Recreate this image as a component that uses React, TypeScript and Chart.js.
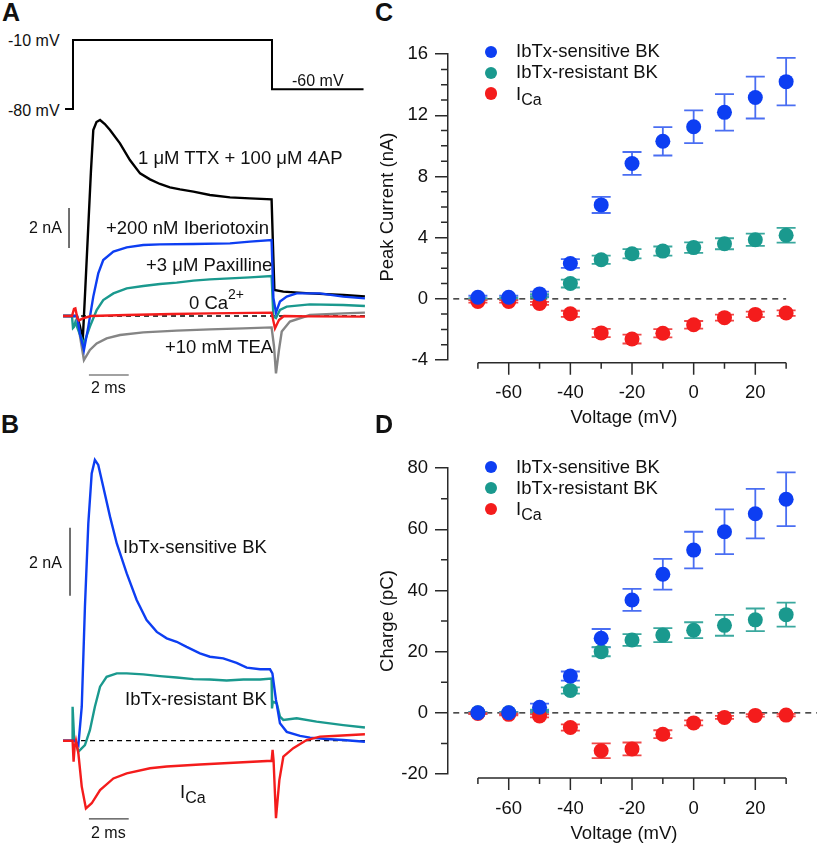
import React, { useEffect, useRef } from 'react';
import { Chart, registerables } from 'chart.js';
Chart.register(...registerables);

const FONT = '"Liberation Sans", Arial, Helvetica, sans-serif';

// ---------- Panel A: command step (ms, mV) ----------
const stepTime = [-0.4, 0, 0, 10, 10, 14.6];
const stepVoltage = [-80, -80, -10, -10, -60, -60];

// ---------- Panel A: current traces (ms, nA) ----------
const ttxTime = [-0.5, 0.2, 0.35, 0.49, 0.62, 0.76, 0.9, 1.02, 1.18, 1.36, 1.6, 1.86, 2.36, 2.86, 3.37, 3.87, 4.37, 4.87, 5.38, 6.05, 6.88, 7.89, 8.89, 9.98, 10.05, 10.12, 10.57, 11.9, 13.6, 14.67];
const ttxCurrent = [0, 0, -0.5, -1.2, 1.4, 4.3, 7.2, 9.3, 9.7, 9.8, 9.6, 9.3, 8.63, 7.8, 7.13, 6.83, 6.6, 6.43, 6.33, 6.22, 6.05, 5.93, 5.88, 5.83, 3.5, 1.3, 1.22, 1.13, 1.05, 0.98];

const ibtxTime = [-0.5, 0.2, 0.35, 0.55, 0.77, 1.02, 1.27, 1.52, 2.03, 2.7, 3.53, 4.37, 6.05, 7.89, 8.89, 9.98, 10.07, 10.2, 10.4, 10.74, 11.24, 12.4, 13.58, 14.67];
const ibtxCurrent = [0, 0, -0.9, -1.7, -0.53, 0.97, 2.13, 2.8, 3.22, 3.43, 3.55, 3.58, 3.6, 3.63, 3.72, 3.8, 0.9, 0.17, 0.72, 0.97, 1.13, 1.13, 0.97, 0.88];

const paxTime = [-0.5, -0.05, 0.0, 0.05, 0.12, 0.3, 0.55, 0.85, 1.19, 1.52, 2.03, 2.7, 3.53, 4.37, 5.21, 6.05, 6.88, 7.89, 8.89, 9.98, 10.07, 10.2, 10.4, 10.74, 11.9, 13.58, 14.67];
const paxCurrent = [0, 0, -0.6, -0.55, -0.3, -0.8, -1.37, -0.53, 0.3, 0.8, 1.13, 1.38, 1.5, 1.6, 1.67, 1.77, 1.83, 1.88, 1.93, 2.0, -0.03, -0.1, 0.3, 0.47, 0.58, 0.55, 0.5];

const teaTime = [-0.5, 0.2, 0.35, 0.55, 0.85, 1.19, 1.69, 2.36, 3.53, 5.21, 6.88, 8.56, 9.98, 10.1, 10.2, 10.35, 10.49, 10.9, 11.9, 13.58, 14.67];
const teaCurrent = [0, 0, -1.0, -2.2, -1.7, -1.37, -1.12, -0.95, -0.82, -0.73, -0.67, -0.62, -0.57, -1.5, -2.87, -1.7, -0.78, -0.28, 0.05, 0.13, 0.17];

const zeroCaTime = [-0.5, -0.05, 0.05, 0.12, 0.22, 0.3, 0.5, 0.9, 2.7, 5.0, 6.88, 9.98, 10.15, 10.35, 10.6, 12.0, 14.67];
const zeroCaCurrent = [0, 0, 0.35, 0.38, -0.1, -0.22, -0.12, 0, 0.05, 0.1, 0.13, 0.17, -0.62, -0.2, 0, -0.02, -0.03];

// ---------- Panel B: difference currents (ms, nA) ----------
const sensTime = [-0.5, 0.1, 0.27, 0.44, 0.6, 0.77, 0.94, 1.1, 1.27, 1.52, 1.86, 2.2, 2.7, 3.2, 3.7, 4.21, 4.71, 5.21, 5.71, 6.38, 6.88, 7.55, 8.22, 8.73, 9.4, 9.9, 10.02, 10.2, 10.4, 10.74, 11.41, 11.91, 12.74, 13.58, 14.67];
const sensCurrent = [0, 0, -0.13, 1.0, 3.94, 6.39, 7.86, 8.26, 8.11, 7.47, 6.59, 5.8, 4.92, 4.14, 3.55, 3.2, 3.01, 2.91, 2.76, 2.57, 2.47, 2.42, 2.29, 2.15, 2.1, 2.1, 1.98, 1.2, 0.51, 0.26, 0.14, 0.09, 0.05, 0.02, -0.03];

const resTime = [-0.5, -0.04, -0.02, 0.03, 0.06, 0.12, 0.27, 0.6, 0.85, 1.1, 1.36, 1.69, 2.2, 2.7, 3.53, 4.37, 5.21, 6.05, 6.88, 7.72, 8.56, 9.4, 9.98, 10.0, 10.04, 10.24, 10.4, 10.57, 11.24, 12.24, 13.58, 14.67];
const resCurrent = [0, 0, 1.0, 0.4, 0, 0, -0.32, -0.13, 0.31, 1.0, 1.59, 1.88, 1.98, 1.98, 1.95, 1.9, 1.86, 1.81, 1.8, 1.77, 1.8, 1.8, 1.83, 0.95, 1.15, 1.1, 0.71, 0.61, 0.66, 0.56, 0.46, 0.39];

const icaTime = [-0.5, -0.02, 0.03, 0.08, 0.15, 0.27, 0.44, 0.65, 0.94, 1.36, 2.03, 2.7, 3.87, 4.71, 6.38, 8.06, 9.98, 10.03, 10.08, 10.2, 10.37, 10.57, 11.07, 11.74, 12.41, 13.08, 14.67];
const icaCurrent = [0, 0, -0.62, -0.2, 0, -0.37, -1.35, -1.99, -1.84, -1.45, -1.11, -0.96, -0.81, -0.76, -0.7, -0.65, -0.59, -0.27, -0.59, -2.28, -1.16, -0.47, -0.22, 0.02, 0.12, 0.14, 0.19];

// baselines & scale bars
const baselineTime = [-0.5, 14.67];
const baselineValue = [0, 0];
const barA_nA_t = [-0.2, -0.2];
const barA_nA_v = [3.4, 5.4];
const barA_ms_t = [0.8, 2.8];
const barA_ms_v = [-2.95, -2.95];
const barB_nA_t = [-0.15, -0.15];
const barB_nA_v = [4.26, 6.26];
const barB_ms_t = [0.8, 2.8];
const barB_ms_v = [-2.3, -2.3];

// ---------- Panels C & D: I-V relations ----------
const voltages = [-70, -60, -50, -40, -30, -20, -10, 0, 10, 20, 30];

const peakSensitive = [0.1, 0.1, 0.32, 2.31, 6.14, 8.85, 10.3, 11.25, 12.19, 13.16, 14.2];
const peakSensitiveErr = [0.1, 0.1, 0.15, 0.29, 0.53, 0.75, 0.93, 1.07, 1.19, 1.37, 1.55];
const peakResistant = [0.0, 0.02, 0.2, 1.0, 2.55, 2.95, 3.12, 3.35, 3.6, 3.86, 4.16];
const peakResistantErr = [0.05, 0.05, 0.1, 0.26, 0.27, 0.3, 0.3, 0.34, 0.36, 0.4, 0.48];
const peakCa = [-0.17, -0.17, -0.3, -0.98, -2.23, -2.63, -2.25, -1.7, -1.23, -1.02, -0.93];
const peakCaErr = [0.08, 0.08, 0.1, 0.2, 0.27, 0.29, 0.27, 0.25, 0.2, 0.18, 0.18];

const chargeSensitive = [0, 0, 1.8, 12.0, 24.4, 36.9, 45.3, 53.2, 59.2, 65.1, 69.8];
const chargeSensitiveErr = [0.3, 0.3, 1.2, 1.5, 3.0, 3.6, 5.0, 6.0, 7.3, 8.1, 8.8];
const chargeResistant = [0, 0, 0.5, 7.3, 20.0, 23.8, 25.4, 27.0, 28.6, 30.4, 32.1];
const chargeResistantErr = [0.2, 0.2, 0.5, 1.0, 1.5, 1.9, 2.3, 2.6, 3.4, 3.7, 3.9];
const chargeCa = [-0.2, -0.5, -1.0, -4.8, -12.4, -11.8, -7.0, -3.3, -1.5, -0.85, -0.75];
const chargeCaErr = [0.2, 0.3, 0.5, 1.0, 2.4, 2.1, 1.3, 0.8, 0.5, 0.4, 0.4];

const xTickMarks = [-70, -60, -50, -40, -30, -20, -10, 0, 10, 20, 30];
const xTickLabels = [-60, -40, -20, 0, 20];
const yMajorC = [-4, 0, 4, 8, 12, 16];
const yMinorC = [-3, -2, -1, 1, 2, 3, 5, 6, 7, 9, 10, 11, 13, 14, 15];
const yMajorD = [-20, 0, 20, 40, 60, 80];
const yMinorD = [-10, 10, 30, 50, 70];

const BLUE = '#0d3ef2';
const BLUE_ERR = '#4a6ef2';
const TEAL = '#1a998e';
const TEAL_ERR = '#3aa89e';
const RED = '#f41c1c';
const RED_ERR = '#f04848';
const GRAY = '#858585';
const AXIS = '#2a2a2a';

const series = (t: number[], v: number[]) => t.map((x, i) => ({ x, y: v[i] }));

const trace = (t: number[], v: number[], color: string, order: number, extra: any = {}) => ({
  type: 'scatter',
  data: series(t, v),
  showLine: true,
  borderColor: color,
  backgroundColor: color,
  borderWidth: 2.4,
  pointRadius: 0,
  pointHoverRadius: 0,
  order,
  ...extra,
});

const ivPlugin = {
  id: 'ivAxes',
  beforeDatasetsDraw(chart: any, _a: any, opts: any) {
    const { ctx, scales } = chart;
    const xs = scales.x;
    const ys = scales.y;
    ctx.save();
    ctx.strokeStyle = '#111';
    ctx.lineWidth = 1.3;
    ctx.setLineDash([6, 5]);
    const y0 = ys.getPixelForValue(0);
    ctx.beginPath();
    ctx.moveTo(xs.getPixelForValue(opts.zeroFrom), y0);
    ctx.lineTo(opts.zeroTo === null ? chart.width : xs.getPixelForValue(opts.zeroTo), y0);
    ctx.stroke();
    ctx.setLineDash([]);
    chart.data.datasets.forEach((ds: any, di: number) => {
      const meta = chart.getDatasetMeta(di);
      ctx.strokeStyle = ds.errorColor;
      ctx.lineWidth = 1.8;
      ds.data.forEach((p: any, i: number) => {
        const e = ds.errors[i];
        const px = meta.data[i].x;
        const yTop = ys.getPixelForValue(p.y + e);
        const yBot = ys.getPixelForValue(p.y - e);
        ctx.beginPath();
        ctx.moveTo(px, yTop);
        ctx.lineTo(px, yBot);
        ctx.moveTo(px - 9.5, yTop);
        ctx.lineTo(px + 9.5, yTop);
        ctx.moveTo(px - 9.5, yBot);
        ctx.lineTo(px + 9.5, yBot);
        ctx.stroke();
      });
    });
    ctx.restore();
  },
  afterDraw(chart: any, _a: any, opts: any) {
    const { ctx, scales, chartArea } = chart;
    const xs = scales.x;
    const ys = scales.y;
    ctx.save();
    ctx.strokeStyle = AXIS;
    ctx.lineWidth = 1.5;
    const ay = chartArea.bottom + opts.axisOffset;
    ctx.beginPath();
    ctx.moveTo(xs.getPixelForValue(xTickMarks[0]), ay);
    ctx.lineTo(xs.getPixelForValue(xTickMarks[xTickMarks.length - 1]), ay);
    xTickMarks.forEach((v) => {
      const px = xs.getPixelForValue(v);
      const len = xTickLabels.includes(v) ? 12 : 6;
      ctx.moveTo(px, ay);
      ctx.lineTo(px, ay + len);
    });
    opts.yMinor.forEach((v: number) => {
      const py = ys.getPixelForValue(v);
      ctx.moveTo(chartArea.left - 7, py);
      ctx.lineTo(chartArea.left, py);
    });
    ctx.stroke();
    ctx.restore();
  },
};

const ivDataset = (label: string, vals: number[], errs: number[], color: string, errColor: string, order: number) => ({
  label,
  data: series(voltages, vals),
  errors: errs,
  errorColor: errColor,
  backgroundColor: color,
  borderColor: color,
  borderWidth: 0,
  pointRadius: 7.5,
  pointHoverRadius: 7.5,
  order,
});

const ivOptions = (p: any) => ({
  animation: false,
  responsive: false,
  events: [],
  layout: { padding: { top: 10, right: 17, bottom: 0, left: 0 } },
  plugins: {
    legend: { display: false },
    tooltip: { enabled: false },
    ivAxes: { zeroFrom: -78, zeroTo: p.zeroTo, axisOffset: p.axisOffset, yMinor: p.yMinor },
  },
  scales: {
    x: {
      type: 'linear',
      position: 'bottom',
      min: -79.7,
      max: 34.5,
      afterFit: (s: any) => { s.height = p.xHeight; },
      afterBuildTicks: (s: any) => { s.ticks = xTickLabels.map((v) => ({ value: v })); },
      grid: { display: false, drawTicks: false },
      border: { display: false },
      ticks: { padding: p.xPad, color: '#111', font: { family: FONT, size: 18.5 }, maxRotation: 0, autoSkip: false, callback: (v: any) => String(v) },
      title: { display: true, text: 'Voltage (mV)', color: '#111', font: { family: FONT, size: 18.5 }, padding: { top: 0, bottom: p.titlePad } },
    },
    y: {
      type: 'linear',
      position: 'left',
      min: p.yMin,
      max: p.yMax,
      afterFit: (s: any) => { s.width = 78; },
      afterBuildTicks: (s: any) => { s.ticks = p.yMajor.map((v: number) => ({ value: v })); },
      grid: { drawOnChartArea: false, drawTicks: true, tickLength: 13, color: AXIS, lineWidth: 1.5 },
      border: { display: true, color: AXIS, width: 1.5 },
      ticks: { padding: 7, color: '#111', font: { family: FONT, size: 18.5 }, autoSkip: false, callback: (v: any) => String(v) },
      title: { display: true, text: p.yTitle, color: '#111', font: { family: FONT, size: 18.5 }, padding: { top: 7, bottom: 0 } },
    },
  },
});

const traceOptions = (xMin: number, xMax: number, yMin: number, yMax: number, extraScales: any = {}) => ({
  animation: false,
  responsive: false,
  events: [],
  layout: { padding: 0 },
  plugins: { legend: { display: false }, tooltip: { enabled: false } },
  scales: {
    x: { type: 'linear', display: false, min: xMin, max: xMax },
    y: { type: 'linear', display: false, min: yMin, max: yMax },
    ...extraScales,
  },
});

const T = ({ x, y, size = 18.5, bold = false, children }: any) => (
  <div
    style={{
      position: 'absolute',
      left: x,
      top: y - size / 2,
      fontSize: size,
      lineHeight: `${size}px`,
      fontFamily: FONT,
      fontWeight: bold ? 'bold' : 'normal',
      whiteSpace: 'nowrap',
      color: '#111',
      zIndex: 2,
    }}
  >
    {children}
  </div>
);

const Sub = ({ children }: any) => (
  <span style={{ fontSize: 16, position: 'relative', top: 5 }}>{children}</span>
);

const Dot = ({ x, y, color }: any) => (
  <div style={{ position: 'absolute', left: x - 6.2, top: y - 6.2, width: 12.4, height: 12.4, borderRadius: '50%', background: color, zIndex: 2 }} />
);

export default function App() {
  const aRef = useRef<HTMLCanvasElement>(null);
  const bRef = useRef<HTMLCanvasElement>(null);
  const cRef = useRef<HTMLCanvasElement>(null);
  const dRef = useRef<HTMLCanvasElement>(null);

  useEffect(() => {
    const charts: any[] = [];
    const dashed = { borderDash: [5, 4], borderWidth: 1.3 };

    charts.push(
      new Chart(aRef.current as any, {
        type: 'scatter',
        data: {
          datasets: [
            trace(stepTime, stepVoltage, '#000', 0, { yAxisID: 'yV', borderWidth: 2 }),
            trace(zeroCaTime, zeroCaCurrent, RED, 1),
            trace(ibtxTime, ibtxCurrent, BLUE, 2),
            trace(paxTime, paxCurrent, TEAL, 3),
            trace(teaTime, teaCurrent, GRAY, 4),
            trace(ttxTime, ttxCurrent, '#000', 5),
            trace(baselineTime, baselineValue, '#000', 6, dashed),
            trace(barA_nA_t, barA_nA_v, '#111', 7, { borderWidth: 1.2 }),
            trace(barA_ms_t, barA_ms_v, '#444', 7, { borderWidth: 1.2 }),
          ],
        } as any,
        options: traceOptions(-0.653, 14.724, -3.8, 14.3, {
          yV: { type: 'linear', display: false, min: -367.1, max: 0.145 },
        }) as any,
      })
    );

    charts.push(
      new Chart(bRef.current as any, {
        type: 'scatter',
        data: {
          datasets: [
            trace(icaTime, icaCurrent, RED, 0),
            trace(sensTime, sensCurrent, BLUE, 1),
            trace(resTime, resCurrent, TEAL, 2),
            trace(baselineTime, baselineValue, '#000', 3, dashed),
            trace(barB_nA_t, barB_nA_v, '#111', 4, { borderWidth: 1.2 }),
            trace(barB_ms_t, barB_ms_v, '#444', 4, { borderWidth: 1.2 }),
          ],
        } as any,
        options: traceOptions(-0.653, 14.724, -2.685, 8.844) as any,
      })
    );

    charts.push(
      new Chart(cRef.current as any, {
        type: 'scatter',
        data: {
          datasets: [
            ivDataset('IbTx-sensitive BK', peakSensitive, peakSensitiveErr, BLUE, BLUE_ERR, 0),
            ivDataset('IbTx-resistant BK', peakResistant, peakResistantErr, TEAL, TEAL_ERR, 2),
            ivDataset('ICa', peakCa, peakCaErr, RED, RED_ERR, 1),
          ],
        } as any,
        options: ivOptions({
          yMin: -4, yMax: 16, yMajor: yMajorC, yMinor: yMinorC, yTitle: 'Peak Current (nA)',
          xHeight: 73, xPad: 22, titlePad: 4, axisOffset: 2.7, zeroTo: 30,
        }) as any,
        plugins: [ivPlugin as any],
      })
    );

    charts.push(
      new Chart(dRef.current as any, {
        type: 'scatter',
        data: {
          datasets: [
            ivDataset('IbTx-sensitive BK', chargeSensitive, chargeSensitiveErr, BLUE, BLUE_ERR, 0),
            ivDataset('IbTx-resistant BK', chargeResistant, chargeResistantErr, TEAL, TEAL_ERR, 2),
            ivDataset('ICa', chargeCa, chargeCaErr, RED, RED_ERR, 1),
          ],
        } as any,
        options: ivOptions({
          yMin: -20, yMax: 80, yMajor: yMajorD, yMinor: yMinorD, yTitle: 'Charge (pC)',
          xHeight: 71, xPad: 24, titlePad: 0, axisOffset: 4, zeroTo: null,
        }) as any,
        plugins: [ivPlugin as any],
      })
    );

    return () => charts.forEach((c) => c.destroy());
  }, []);

  const cv = (left: number, top: number) => ({ position: 'absolute' as const, left, top });

  return (
    <div style={{ position: 'absolute', left: 0, top: 0, width: 817, height: 845, overflow: 'hidden', background: '#fff' }}>
      <canvas ref={aRef} width={306} height={362} style={cv(60, 30)} />
      <canvas ref={bRef} width={306} height={392} style={cv(60, 440)} />
      <canvas ref={cRef} width={447} height={397} style={cv(370, 36)} />
      <canvas ref={dRef} width={447} height={395} style={cv(370, 450)} />

      {/* Panel letters */}
      <T x={2} y={12.5} size={25} bold>A</T>
      <T x={375} y={12.5} size={25} bold>C</T>
      <T x={1} y={424.5} size={25} bold>B</T>
      <T x={375} y={424.5} size={25} bold>D</T>

      {/* Panel A labels */}
      <T x={8} y={41} size={16}>-10 mV</T>
      <T x={8} y={110.5} size={16}>-80 mV</T>
      <T x={292} y={81} size={16}>-60 mV</T>
      <T x={138} y={158}>1 μM TTX + 100 μM 4AP</T>
      <T x={106} y={228}>+200 nM Iberiotoxin</T>
      <T x={146} y={265}>+3 μM Paxilline</T>
      <T x={189} y={303}>
        0 Ca<span style={{ fontSize: 14, position: 'relative', top: -9.5 }}>2+</span>
      </T>
      <T x={165} y={347}>+10 mM TEA</T>
      <T x={29} y={228} size={16}>2 nA</T>
      <T x={91} y={388} size={16}>2 ms</T>

      {/* Panel B labels */}
      <T x={123} y={547.5}>IbTx-sensitive BK</T>
      <T x={125} y={699}>IbTx-resistant BK</T>
      <T x={180} y={792}>I<Sub>Ca</Sub></T>
      <T x={29} y={563} size={16}>2 nA</T>
      <T x={91} y={833} size={16}>2 ms</T>

      {/* Panel C legend */}
      <Dot x={491} y={52.3} color={BLUE} />
      <Dot x={491} y={72.8} color={TEAL} />
      <Dot x={491} y={93.6} color={RED} />
      <T x={516} y={51.7}>IbTx-sensitive BK</T>
      <T x={516} y={72.7}>IbTx-resistant BK</T>
      <T x={516} y={94}>I<Sub>Ca</Sub></T>

      {/* Panel D legend */}
      <Dot x={491} y={467.3} color={BLUE} />
      <Dot x={491} y={488.3} color={TEAL} />
      <Dot x={491} y={509.3} color={RED} />
      <T x={516} y={466.8}>IbTx-sensitive BK</T>
      <T x={516} y={487.8}>IbTx-resistant BK</T>
      <T x={516} y={509}>I<Sub>Ca</Sub></T>
    </div>
  );
}
